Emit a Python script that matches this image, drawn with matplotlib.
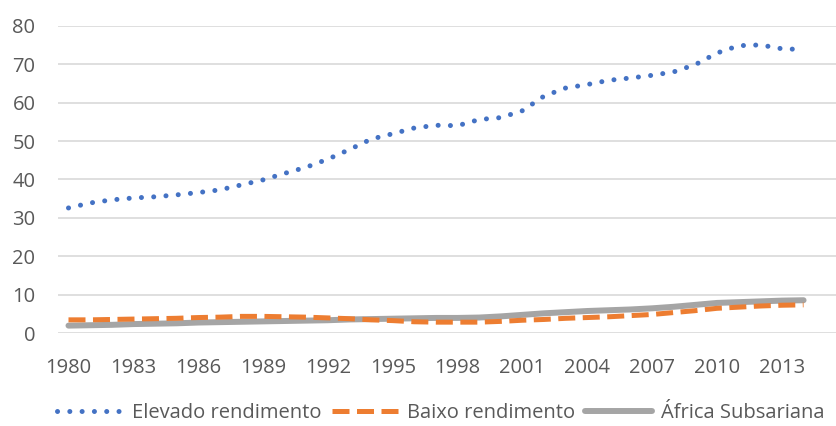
import matplotlib
matplotlib.use("Agg")
import matplotlib.pyplot as plt

# data
years = list(range(1980, 2015))

elevado = [32.6, 33.9, 34.7, 35.2, 35.5, 36.0, 36.6, 37.3, 38.6, 39.9,
           41.6, 43.2, 45.3, 47.8, 50.5, 51.9, 53.4, 54.1, 54.0, 55.6,
           56.1, 57.9, 61.7, 63.8, 64.7, 65.8, 66.4, 67.1, 68.0, 69.9,
           72.9, 74.8, 75.0, 74.0, 73.8]

baixo = [3.5, 3.5, 3.6, 3.7, 3.8, 3.9, 4.1, 4.2, 4.4, 4.4,
         4.3, 4.2, 4.0, 3.8, 3.5, 3.3, 3.0, 2.9, 2.9, 2.9,
         3.1, 3.4, 3.6, 3.9, 4.1, 4.3, 4.6, 4.9, 5.4, 5.9,
         6.5, 6.8, 7.1, 7.3, 7.4]

africa = [2.0, 2.1, 2.2, 2.4, 2.5, 2.6, 2.8, 2.9, 3.0, 3.1,
          3.2, 3.3, 3.4, 3.6, 3.7, 3.8, 3.9, 4.0, 4.0, 4.1,
          4.4, 4.8, 5.2, 5.5, 5.8, 6.0, 6.2, 6.5, 6.9, 7.4,
          7.9, 8.1, 8.3, 8.5, 8.6]

series_names = ["Elevado rendimento", "Baixo rendimento", "África Subsariana"]
xtick_years = list(range(1980, 2014, 3))
yticks = list(range(0, 81, 10))

plt.rcParams["font.family"] = ["Open Sans", "DejaVu Sans"]

fig = plt.figure(figsize=(8.36, 4.26), dpi=100)
ax = fig.add_axes([0.069, 0.2176, 0.931, 0.7221])

ax.plot(years, elevado, color="#4472C4", lw=3.6,
        linestyle=(0, (0.01, 2.45)), dash_capstyle="round",
        label=series_names[0], zorder=3)
ax.plot(years, baixo, color="#ED7D31", lw=3.6,
        linestyle=(0, (3.4, 1.5)), dash_capstyle="butt",
        label=series_names[1], zorder=3)
ax.plot(years, africa, color="#A5A5A5", lw=4.3,
        solid_capstyle="round", label=series_names[2], zorder=2)

ax.set_xlim(1979.5, 2015.5)
ax.set_ylim(0, 80)
ax.set_xticks(xtick_years)
ax.set_yticks(yticks)
ax.tick_params(axis="both", length=0, labelsize=14.5, colors="#595959")
ax.tick_params(axis="y", pad=16)
ax.tick_params(axis="x", pad=18)
ax.grid(axis="y", color="#D9D9D9", lw=1.2)
ax.set_axisbelow(True)
for s in ax.spines.values():
    s.set_visible(False)

fig.legend(loc="center", bbox_to_anchor=(0.527, 0.03), ncol=3,
           frameon=False, fontsize=14.5, handlelength=3.3,
           handletextpad=0.45, columnspacing=0.5, labelcolor="#595959",
           borderaxespad=0, borderpad=0)

fig.savefig("out.png", dpi=100)
